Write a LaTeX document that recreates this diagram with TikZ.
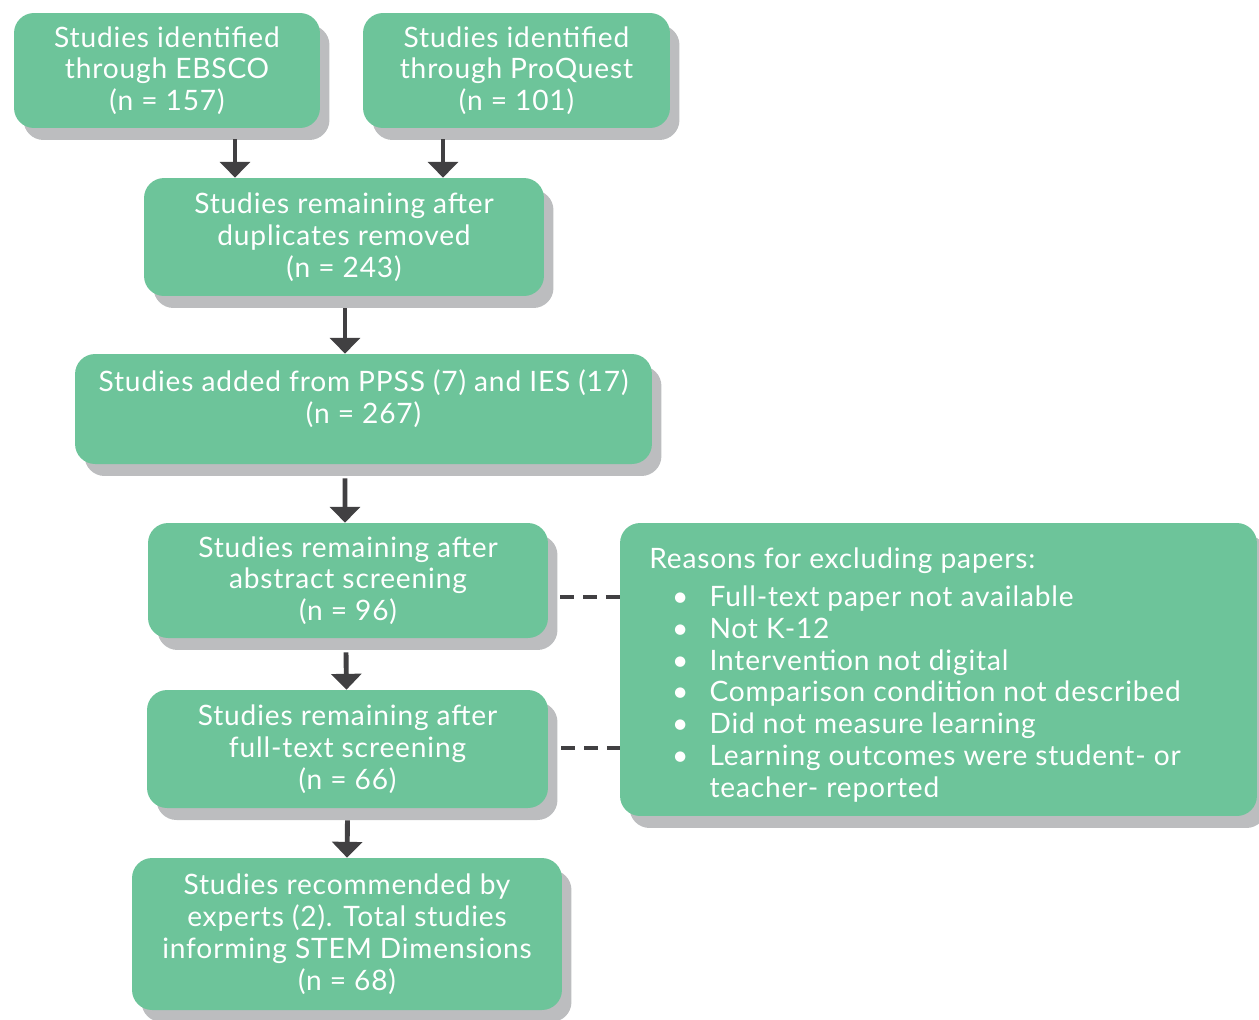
\documentclass[tikz,border=0pt]{standalone}
\usepackage{fontspec}
\setmainfont{Lato}[LetterSpace=3]
\usetikzlibrary{arrows.meta, shadows, calc}

\definecolor{boxgreen}{HTML}{6DC49A}
\definecolor{shadowgrey}{HTML}{BCBDBF}
\definecolor{arrowgrey}{HTML}{414042}

\tikzset{
  boxtext/.style={text=white, align=center, font=\fontsize{16}{18.1}\selectfont, inner sep=0pt},
  box/.style={boxtext, fill=boxgreen, rounded corners=0.4cm,
    drop shadow={shadow xshift=0.19cm, shadow yshift=-0.24cm, fill=shadowgrey, opacity=1}},
  flow/.style={draw=arrowgrey, line width=2.8pt, -{Triangle[width=17pt, length=9pt]}},
  dashlink/.style={draw=arrowgrey, line width=2.8pt, dash pattern=on 8pt off 5pt}
}

\begin{document}
\begin{tikzpicture}[x=0.02cm, y=-0.02cm]
\useasboundingbox (0,0) rectangle (1259,1019);

\node[box, minimum width=6.12cm, minimum height=2.3cm] (ebsco) at (167,70.5)
  {Studies identified\\through EBSCO\\(n = 157)};
\node[box, minimum width=6.14cm, minimum height=2.3cm] (proquest) at (516.5,70.5)
  {Studies identified\\through ProQuest\\(n = 101)};
\node[box, minimum width=8cm, minimum height=2.36cm] (dup) at (344,237)
  {Studies remaining after\\duplicates removed\\(n = 243)};
\node[box, minimum width=11.54cm, minimum height=2.2cm] (added) at (363.5,409) {};
\node[boxtext] (addedtext) at ([yshift=0.2cm]added.center)
  {Studies added from PPSS (7) and IES (17)\\(n = 267)};
\node[box, minimum width=8cm, minimum height=2.3cm] (abstract) at (348,580.5)
  {Studies remaining after\\abstract screening\\(n = 96)};
\node[box, minimum width=8.02cm, minimum height=2.36cm] (fulltext) at (347.5,749)
  {Studies remaining after\\full-text screening\\(n = 66)};
\node[box, minimum width=8.6cm, minimum height=3.04cm] (experts) at (347,934)
  {Studies recommended by\\experts (2). Total studies\\informing STEM Dimensions\\(n = 68)};

\node[box, minimum width=12.74cm, minimum height=5.86cm] (reasons) at (938.5,669.5) {};
\node[boxtext, anchor=north west, align=left] (reasonlist) at (649,546) {%
  \begin{tabular}{@{\hspace{13pt}}l@{\hspace{12pt}}l@{}}
  \multicolumn{2}{@{}l@{}}{Reasons for excluding papers:}\\[3.4pt]
  \textbullet & Full-text paper not available\\
  \textbullet & Not K-12\\
  \textbullet & Intervention not digital\\
  \textbullet & Comparison condition not described\\
  \textbullet & Did not measure learning\\
  \textbullet & Learning outcomes were student- or\\
              & teacher- reported
  \end{tabular}};

% arrows
\coordinate (e1) at ([shift={(68,11)}]ebsco.south);
\coordinate (p1) at ([shift={(-73.5,11)}]proquest.south);
\draw[flow] (e1) -- (e1 |- dup.north);
\draw[flow] (p1) -- (p1 |- dup.north);
\draw[flow] ([shift={(1,12)}]dup.south) -- ([xshift=0.02cm]dup.south |- added.north);
\draw[flow] ([shift={(-3,14)}]added.south -| abstract.north) -- ([xshift=-0.06cm]abstract.north);
\draw[flow] ([shift={(-2,14)}]abstract.south) -- ([xshift=-0.02cm]fulltext.north);
\draw[flow] ([shift={(0,12)}]fulltext.south) -- (experts.north);

% exclusions
\coordinate (d1) at ([shift={(12,16.5)}]abstract.east);
\draw[dashlink] (d1) -- (d1 -| reasons.west);
\draw[dashlink] ([shift={(13,-1)}]fulltext.east) -- ([yshift=0.02cm]fulltext.east -| reasons.west);
\end{tikzpicture}
\end{document}
